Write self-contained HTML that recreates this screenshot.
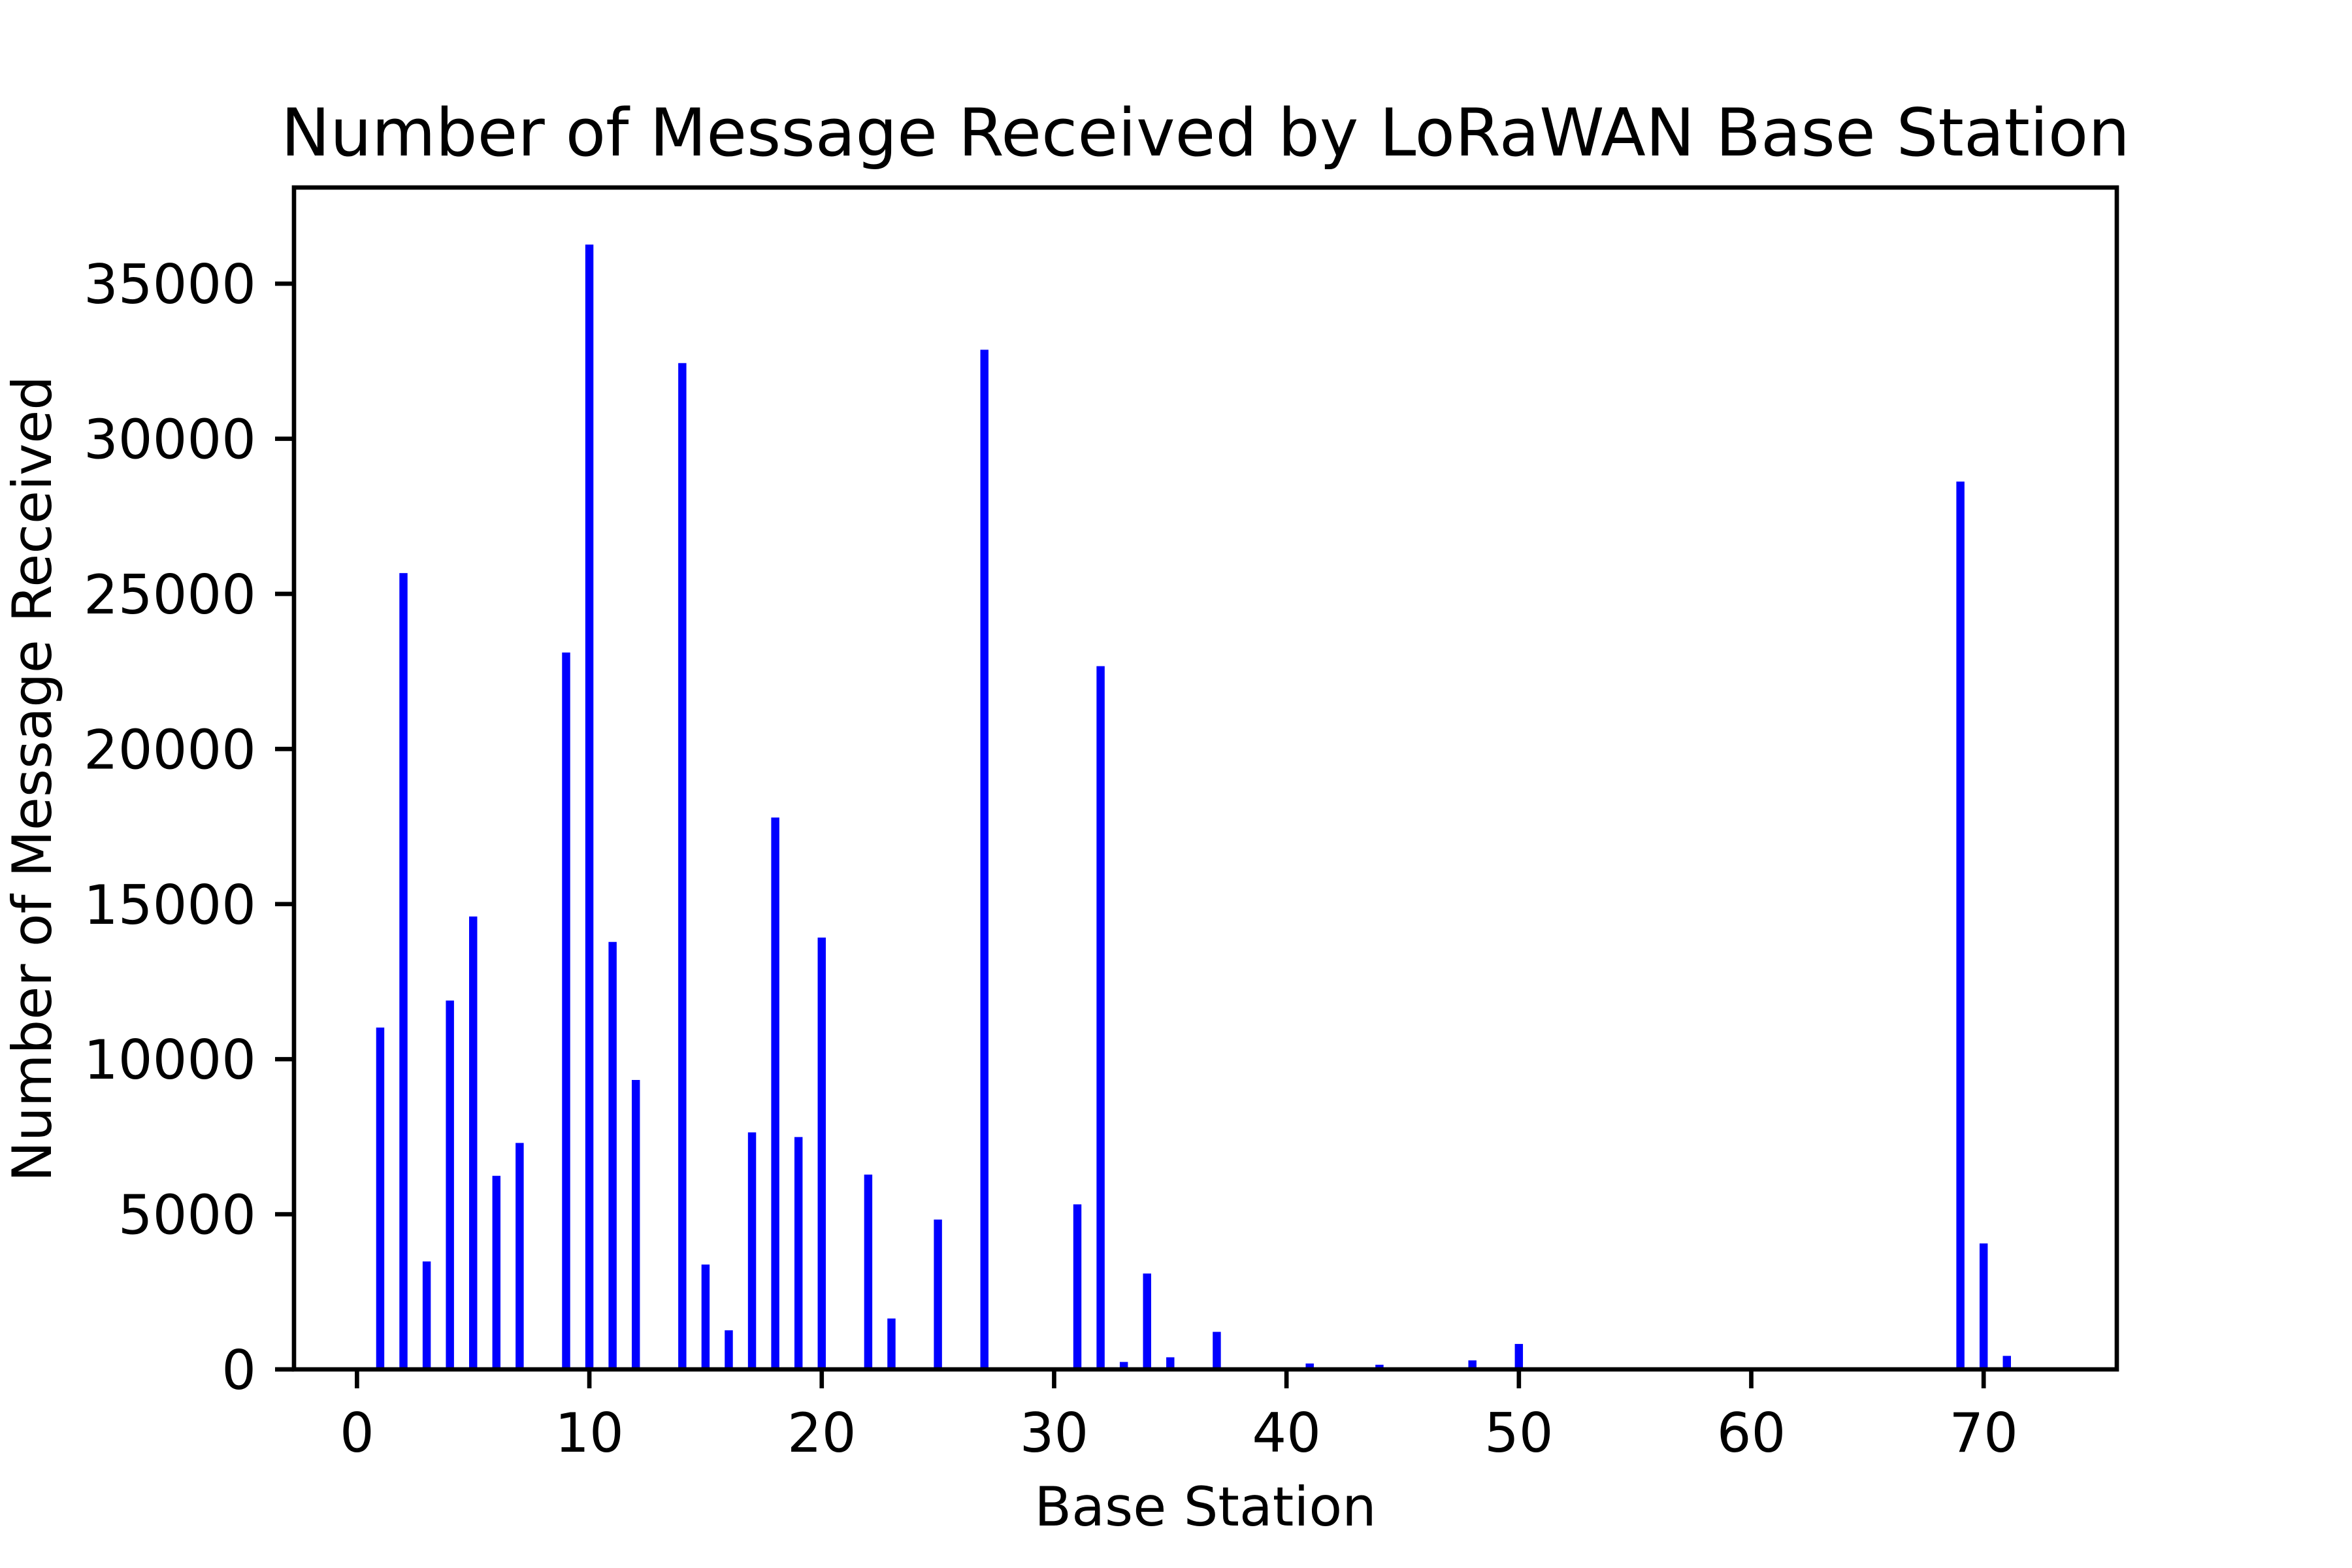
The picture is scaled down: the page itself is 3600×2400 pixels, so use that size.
<!DOCTYPE html>
<html><head><meta charset="utf-8"><style>
html,body{margin:0;padding:0;background:#fff}
svg{display:block}
text{font-family:"DejaVu Sans","Liberation Sans",sans-serif;fill:#000}
</style></head><body>
<svg id="chart" width="3600" height="2400" viewBox="0 0 3600 2400">
<rect width="3600" height="2400" fill="#fff"/>
<g id="bars"></g>
<g id="axes"></g>
<text x="1845" y="238" font-size="100.5" text-anchor="middle">Number of Message Received by LoRaWAN Base Station</text>
<text x="1845" y="2335" font-size="83" text-anchor="middle">Base Station</text>
<text x="0" y="0" font-size="83" text-anchor="middle" transform="translate(78,1192) rotate(-90)">Number of Message Received</text>
</svg>
<script>
const stations = [1,2,3,4,5,6,7,9,10,11,12,14,15,16,17,18,19,20,22,23,25,27,31,32,33,34,35,37,41,44,48,50,69,70,71];
const messages = [11020,25670,3480,11890,14600,6240,7300,23110,36260,13780,9330,32440,3380,1260,7640,17790,7490,13920,6280,1640,4830,32870,5320,22670,240,3090,390,1210,190,150,290,820,28620,4060,435];
const xTicks = [0,10,20,30,40,50,60,70];
const yTicks = [0,5000,10000,15000,20000,25000,30000,35000];
const xMin=-2.71, xMax=75.73, yMin=0, yMax=38100;
const L=450, R=3240, T=287, B=2096;
const barW=0.35;
const NS='http://www.w3.org/2000/svg';
function xs(v){return L+(v-xMin)/(xMax-xMin)*(R-L);}
function ys(v){return B-(v-yMin)/(yMax-yMin)*(B-T);}
function mk(tag,attrs){const e=document.createElementNS(NS,tag);for(const k in attrs)e.setAttribute(k,attrs[k]);return e;}
const bars=document.getElementById('bars');
stations.forEach((s,i)=>{
  const x0=xs(s-barW/2), x1=xs(s+barW/2);
  const r=mk('rect',{x:x0,y:ys(messages[i]),width:x1-x0,height:ys(0)-ys(messages[i]),fill:'#0000ff'});
  
  
  bars.appendChild(r);
});
const ax=document.getElementById('axes');
const frame=mk('rect',{x:L,y:T,width:R-L,height:B-T,fill:'none',stroke:'#000','stroke-width':6.67});


ax.appendChild(frame);
xTicks.forEach(t=>{
  const x=xs(t);
  const ln=mk('line',{x1:x,x2:x,y1:B,y2:B+29,stroke:'#000','stroke-width':6.67});
  
  
  ax.appendChild(ln);
  const tx=mk('text',{x:x,y:2222,'font-size':83,'text-anchor':'middle'});
  tx.textContent=t;
  
  
  ax.appendChild(tx);
});
yTicks.forEach(t=>{
  const y=ys(t);
  const ln=mk('line',{x1:L-29,x2:L,y1:y,y2:y,stroke:'#000','stroke-width':6.67});
  
  
  ax.appendChild(ln);
  const tx=mk('text',{x:392,y:y+30,'font-size':83,'text-anchor':'end'});
  tx.textContent=t;
  
  
  ax.appendChild(tx);
});
</script>
</body></html>
